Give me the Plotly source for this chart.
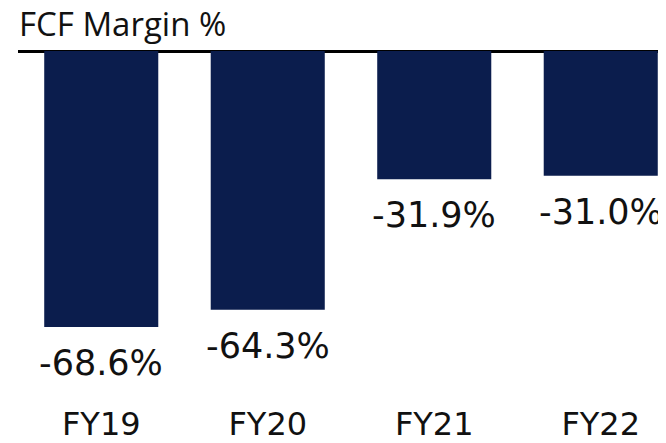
import plotly.graph_objects as go

categories = ["FY19", "FY20", "FY21", "FY22"]
fcf_margin = [-68.6, -64.3, -31.9, -31.0]
labels = [f"{v:.1f}%" for v in fcf_margin]

# The page body has an 8px margin; offsets below compensate for it.
W, H = 666, 443
fig = go.Figure()
fig.add_trace(go.Bar(
    x=categories, y=fcf_margin,
    marker=dict(color="#0b1d4d", line=dict(width=0)),
    width=0.685,
    hoverinfo="skip",
))

for c, v, t in zip(categories, fcf_margin, labels):
    fig.add_annotation(x=c, y=v, text=t, showarrow=False, yanchor="top",
                       yshift=-14, font=dict(family="DejaVu Sans", size=35, color="#111111"))

fig.add_annotation(xref="paper", yref="paper", x=0.0, y=1.0, xanchor="left", yanchor="bottom",
                   text="FCF Margin %", showarrow=False, yshift=4, xshift=0, borderpad=0,
                   font=dict(family="Open Sans", size=33, color="#111111"))

fig.update_layout(
    width=W, height=H,
    margin=dict(l=10, r=0, t=43, b=49),
    plot_bgcolor="white", paper_bgcolor="white",
    showlegend=False,
    xaxis=dict(range=[-0.5, 3.44], showgrid=False, showline=False, ticks="",
               tickfont=dict(family="DejaVu Sans", size=32, color="#111111"),
               fixedrange=True),
    yaxis=dict(range=[-87.25, 0], showgrid=False, showticklabels=False, zeroline=True,
               zerolinecolor="black", zerolinewidth=3, fixedrange=True),
)
fig.write_html("out.html", config={"displayModeBar": False})
